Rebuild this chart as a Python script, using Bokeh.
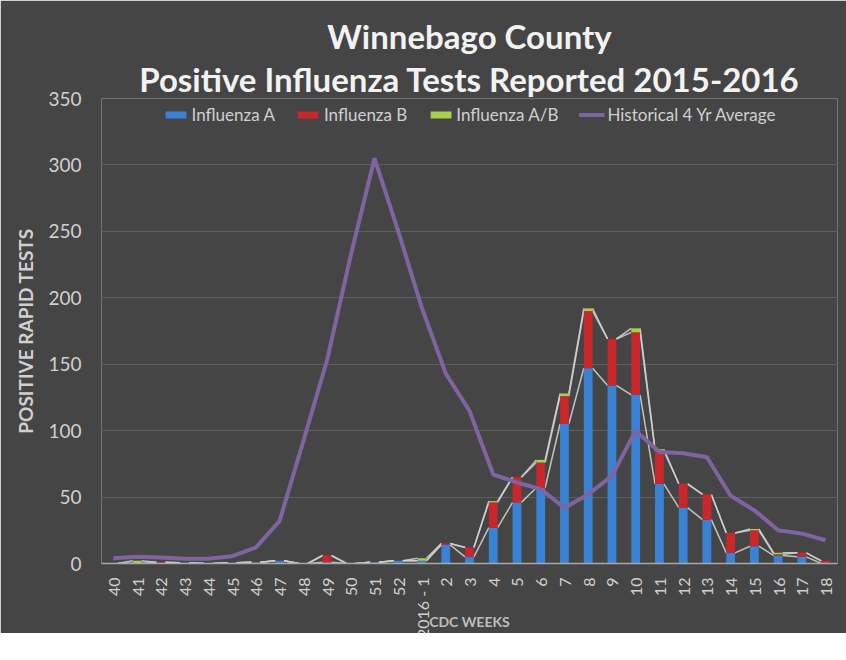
import math
from bokeh.plotting import figure
from bokeh.models import (ColumnDataSource, FactorRange, Range1d, Legend, LegendItem,
                          Title, SingleIntervalTicker)
from bokeh.transform import dodge
from bokeh.embed import file_html
from bokeh.resources import INLINE

# ---- data -------------------------------------------------------------
weeks = ["40", "41", "42", "43", "44", "45", "46", "47", "48", "49", "50", "51", "52",
         "2016 - 1", "2", "3", "4", "5", "6", "7", "8", "9", "10", "11", "12", "13",
         "14", "15", "16", "17", "18"]
flu_a = [0, 0, 0, 0.5, 0, 0.5, 1, 2, 0, 1, 0, 1, 2, 2, 14, 5, 27, 46, 57, 105, 147,
         134, 127, 60, 42, 33, 8, 13, 6, 5, 0]
flu_b = [0, 0, 1, 0, 0, 0, 0, 0, 0, 5, 0, 0, 0, 0, 1, 7, 19, 19, 19, 21, 43, 35, 47,
         25, 18, 19, 15, 12, 1, 3, 2]
flu_ab = [0, 2, 0, 0, 0, 0, 0, 0, 0, 0, 0, 0, 0, 2, 0, 0, 1, 0, 2, 2, 2, 0, 3, 1, 0,
          0, 0, 1, 1, 0, 0]
hist_avg = [4, 5, 4.5, 3.5, 3.5, 5.5, 12, 32, 92, 153, 232, 305, 250, 192, 143, 115,
            67, 61, 56, 42, 52, 66, 100, 84, 83, 80, 51, 40, 25, 22.5, 17.5]

FONT = "Lato"
TXT = "#d0d0d0"
BG = "#454545"

src = ColumnDataSource(dict(weeks=weeks, a=flu_a, b=flu_b, ab=flu_ab, hist=hist_avg))

# cumulative tops for the series lines
top_a = list(flu_a)
top_b = [x + y for x, y in zip(flu_a, flu_b)]
top_ab = [x + y + z for x, y, z in zip(flu_a, flu_b, flu_ab)]
seg = ColumnDataSource(dict(
    w0=weeks[:-1], w1=weeks[1:],
    a0=top_a[:-1], a1=top_a[1:],
    b0=top_b[:-1], b1=top_b[1:],
    c0=top_ab[:-1], c1=top_ab[1:],
))

p = figure(x_range=FactorRange(*weeks, range_padding=0), y_range=Range1d(0, 350),
           frame_width=736, frame_height=465, output_backend="svg",
           toolbar_location=None, title="Winnebago County",
           min_border_left=101, min_border_right=9, min_border_top=98,
           min_border_bottom=0)
p.background_fill_color = BG
p.border_fill_color = BG
p.outline_line_color = None

BW = 0.37
# series lines (drawn under bars)
for y0, y1 in (("a0", "a1"), ("b0", "b1"), ("c0", "c1")):
    p.segment(x0=dodge("w0", BW / 2, range=p.x_range), y0=y0,
              x1=dodge("w1", -BW / 2, range=p.x_range), y1=y1,
              source=seg, line_color="#cfcfcf", line_width=1.5, line_alpha=0.9)

bars = p.vbar_stack(["a", "b", "ab"], x="weeks", width=BW, source=src,
                    color=["#3a83d4", "#c9272c", "#a6d14a"], line_color=None)
line = p.line(x="weeks", y="hist", source=src, line_color="#8064a2", line_width=4)

# titles: p.title is the upper line, the added one sits next to the plot
p.title.align = "center"
p.title.text_font = FONT
p.title.text_font_style = "bold"
p.title.text_font_size = "33px"
p.title.text_color = "#f2f2f2"
p.title.standoff = 2
p.add_layout(Title(text="Positive Influenza Tests Reported 2015-2016", align="center",
                   text_font=FONT, text_font_style="bold", text_font_size="33px",
                   text_color="#f2f2f2", standoff=0), "above")

# axes
p.xgrid.grid_line_color = None
p.ygrid.grid_line_color = "#5e5e5e"
p.ygrid.grid_line_width = 1
p.yaxis.ticker = SingleIntervalTicker(interval=50)
p.yaxis.axis_line_color = None
p.yaxis.major_tick_line_color = None
p.yaxis.minor_tick_line_color = None
p.yaxis.major_label_text_font = FONT
p.yaxis.major_label_text_font_size = "19px"
p.yaxis.major_label_text_color = TXT
p.yaxis.major_label_standoff = 14
p.yaxis.axis_label = "POSITIVE RAPID TESTS"
p.yaxis.axis_label_text_font = FONT
p.yaxis.axis_label_text_font_style = "bold"
p.yaxis.axis_label_text_font_size = "19px"
p.yaxis.axis_label_text_color = TXT
p.yaxis.axis_label_standoff = 8

p.xaxis.axis_line_color = "#a8a8a8"
p.xaxis.axis_line_width = 1.5
p.xaxis.major_tick_line_color = None
p.xaxis.minor_tick_line_color = None
p.xaxis.major_label_orientation = math.pi / 2
p.xaxis.major_label_text_font = FONT
p.xaxis.major_label_text_font_size = "16px"
p.xaxis.major_label_text_color = TXT
p.xaxis.major_label_standoff = 8
p.xaxis.axis_label = "CDC WEEKS"
p.xaxis.axis_label_text_font = FONT
p.xaxis.axis_label_text_font_style = "bold"
p.xaxis.axis_label_text_font_size = "14px"
p.xaxis.axis_label_text_color = "#bdbdbd"
p.xaxis.axis_label_standoff = -28

legend = Legend(items=[
    LegendItem(label="Influenza A", renderers=[bars[0]]),
    LegendItem(label="Influenza B", renderers=[bars[1]]),
    LegendItem(label="Influenza A/B", renderers=[bars[2]]),
    LegendItem(label="Historical 4 Yr Average", renderers=[line]),
], orientation="horizontal", location="top_center", background_fill_alpha=0,
    border_line_color=None, label_text_font=FONT, label_text_font_size="17px",
    label_text_color=TXT, glyph_width=26, glyph_height=9, spacing=20,
    label_standoff=3, label_height=16, padding=0, margin=6)
p.add_layout(legend, "center")

open("out.html", "w").write(file_html(p, INLINE))
